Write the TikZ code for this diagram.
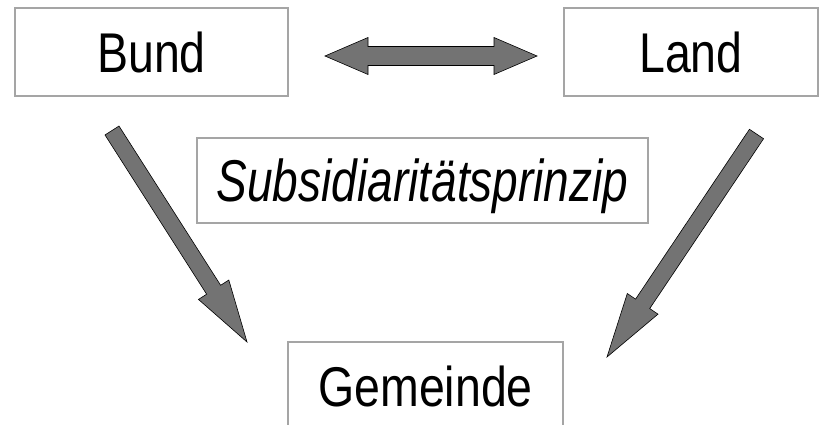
\documentclass[tikz,border=0pt]{standalone}
\usepackage{fontspec}
\setmainfont{Liberation Sans}[FakeStretch=0.83]
\newfontfamily\narrowit{Liberation Sans}[FakeStretch=0.78]
\usetikzlibrary{calc}
\definecolor{framegray}{RGB}{165,165,165}
\definecolor{arrowgray}{RGB}{115,115,115}
\tikzset{
  box/.style={draw=framegray, line width=1.2pt, minimum height=88pt, inner sep=0pt,
    font=\fontsize{56}{60}\selectfont},
  % block arrow: shaft half width, head half width, head length
  blockarrow/.style n args={3}{fill=arrowgray, draw=black, line width=0.6pt,
    to path={let \p1=(\tikztostart), \p2=(\tikztotarget),
      \n1={atan2(\y2-\y1,\x2-\x1)}, \n2={veclen(\x2-\x1,\y2-\y1)} in
      ($(\p1)+(\n1+90:#1)$) -- ($(\p1)+(\n1:\n2-#3)+(\n1+90:#1)$)
      -- ($(\p1)+(\n1:\n2-#3)+(\n1+90:#2)$) -- (\p2)
      -- ($(\p1)+(\n1:\n2-#3)+(\n1-90:#2)$) -- ($(\p1)+(\n1:\n2-#3)+(\n1-90:#1)$)
      -- ($(\p1)+(\n1-90:#1)$) -- cycle}},
  dblockarrow/.style n args={3}{fill=arrowgray, draw=black, line width=0.6pt,
    to path={let \p1=(\tikztostart), \p2=(\tikztotarget),
      \n1={atan2(\y2-\y1,\x2-\x1)}, \n2={veclen(\x2-\x1,\y2-\y1)} in
      (\p1) -- ($(\p1)+(\n1:#3)+(\n1+90:#2)$) -- ($(\p1)+(\n1:#3)+(\n1+90:#1)$)
      -- ($(\p1)+(\n1:\n2-#3)+(\n1+90:#1)$) -- ($(\p1)+(\n1:\n2-#3)+(\n1+90:#2)$)
      -- (\p2)
      -- ($(\p1)+(\n1:\n2-#3)+(\n1-90:#2)$) -- ($(\p1)+(\n1:\n2-#3)+(\n1-90:#1)$)
      -- ($(\p1)+(\n1:#3)+(\n1-90:#1)$) -- ($(\p1)+(\n1:#3)+(\n1-90:#2)$) -- cycle}},
}
\begin{document}
\begin{tikzpicture}[x=1pt,y=-1pt]
\useasboundingbox (0,0) rectangle (819,425);
\node[box, minimum width=273pt] (bund) at (151.5,52) {Bund};
\node[box, minimum width=254pt] (land) at (691,52) {Land};
\node[box, minimum width=451pt, minimum height=85pt, text depth=0pt,
  font=\narrowit\itshape\fontsize{59}{62}\selectfont] (prinzip) at (422.5,180.5) {Subsidiaritätsprinzip};
\node[box, minimum width=275pt] (gemeinde) at (425.5,386) {Gemeinde};

\coordinate (bl) at (325,56);
\coordinate (br) at (537,56);
\coordinate (btail) at (112,130.5);
\coordinate (btip) at (247,342);
\coordinate (ltail) at (756.5,134);
\coordinate (ltip) at (607,357);

\draw[dblockarrow={9.5pt}{18.5pt}{43pt}] (bl) to (br);
\draw[blockarrow={8.3pt}{18pt}{62pt}] (btail) to (btip);
\draw[blockarrow={8.5pt}{18.5pt}{64pt}] (ltail) to (ltip);
\end{tikzpicture}
\end{document}
